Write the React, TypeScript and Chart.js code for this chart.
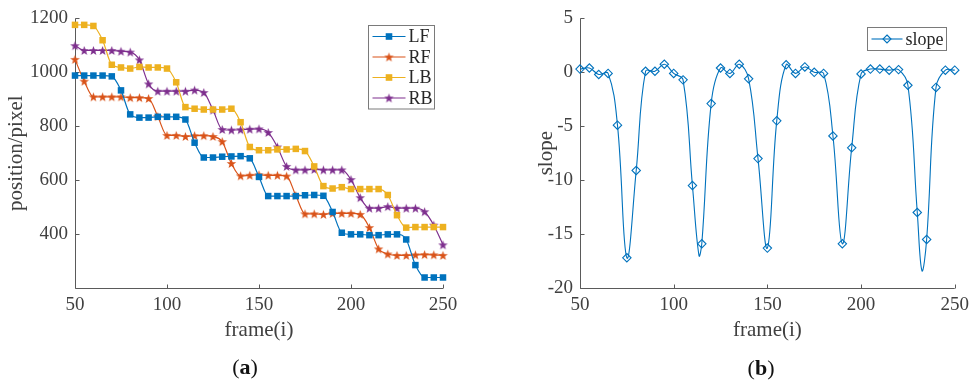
import React, { useEffect, useRef } from 'react';
import { Chart, registerables } from 'chart.js';
Chart.register(...registerables);

// ---------- data ----------
const frames = [50, 55, 60, 65, 70, 75, 80, 85, 90, 95, 100, 105, 110, 115, 120, 125, 130, 135, 140, 145, 150, 155, 160, 165, 170, 175, 180, 185, 190, 195, 200, 205, 210, 215, 220, 225, 230, 235, 240, 245, 250];
const lfPositions = [988, 988, 988, 988, 985, 933, 844, 832, 832, 835, 835, 835, 825, 739, 684, 684, 687, 688, 689, 681, 612, 541, 541, 541, 541, 544, 545, 542, 482, 405, 399, 399, 396, 396, 399, 399, 380, 285, 239, 239, 239];
const rfPositions = [1048, 967, 909, 909, 909, 909, 906, 906, 903, 836, 766, 766, 762, 765, 765, 762, 743, 662, 616, 618, 620, 618, 618, 615, 543, 475, 475, 473, 477, 477, 477, 473, 424, 345, 326, 321, 321, 323, 324, 323, 321];
const lbPositions = [1176, 1176, 1172, 1119, 1028, 1018, 1014, 1020, 1018, 1018, 1014, 963, 871, 865, 862, 862, 862, 865, 815, 723, 711, 711, 714, 714, 716, 708, 651, 578, 569, 574, 567, 567, 567, 567, 545, 470, 424, 426, 426, 426, 426];
const rbPositions = [1099, 1081, 1081, 1081, 1081, 1078, 1075, 1046, 957, 930, 930, 930, 930, 934, 925, 860, 788, 786, 787, 789, 790, 777, 723, 651, 638, 638, 640, 638, 638, 638, 602, 535, 496, 496, 502, 496, 496, 496, 483, 433, 360];
const slopeValues = [0.3, 0.4, -0.2, -0.1, -4.9, -17.2, -9.1, 0.1, 0.1, 0.75, -0.1, -0.7, -10.5, -15.9, -2.9, 0.4, -0.1, 0.75, -0.6, -8.0, -16.3, -4.5, 0.7, -0.1, 0.5, 0, -0.1, -5.9, -15.9, -7.0, -0.15, 0.3, 0.3, 0.2, 0.25, -1.2, -13.0, -15.5, -1.4, 0.2, 0.2];
// curve minima (no marker drawn there)
const slopeDipFrames = [113.5, 232.5];
const slopeDipValues = [-17.0, -18.4];

const frameTicks = [50, 100, 150, 200, 250];
const positionTicks = [400, 600, 800, 1000, 1200];
const slopeTicks = [-20, -15, -10, -5, 0, 5];

// ---------- styles ----------
const SERIF = "'Liberation Serif', 'Times New Roman', serif";
const TEXT = '#404040';
const AXIS = '#5a5a5a';
const BLUE = '#0072BD';
const RED = '#D95319';
const YELLOW = '#EDB120';
const PURPLE = '#7E2F8E';

function makeStar(color: string): HTMLCanvasElement {
  const c = document.createElement('canvas');
  c.width = 11;
  c.height = 11;
  const g = c.getContext('2d')!;
  g.beginPath();
  for (let i = 0; i < 10; i++) {
    const r = i % 2 === 0 ? 5 : 2.0;
    const a = -Math.PI / 2 + (i * Math.PI) / 5;
    const px = 5.5 + r * Math.cos(a);
    const py = 5.9 + r * Math.sin(a);
    if (i === 0) g.moveTo(px, py);
    else g.lineTo(px, py);
  }
  g.closePath();
  g.fillStyle = color;
  g.fill();
  return c;
}

function drawMarker(ctx: CanvasRenderingContext2D, d: any, x: number, y: number) {
  const st = d.pointStyle;
  if (st && typeof st === 'object') {
    ctx.drawImage(st, x - st.width / 2, y - st.height / 2);
    return;
  }
  if (st === 'rect') {
    ctx.fillStyle = d.pointBackgroundColor;
    ctx.fillRect(x - 3.3, y - 3.3, 6.6, 6.6);
    return;
  }
  if (st === 'rectRot') {
    ctx.strokeStyle = d.pointBorderColor;
    ctx.lineWidth = d.pointBorderWidth || 1;
    ctx.beginPath();
    ctx.moveTo(x, y - 4);
    ctx.lineTo(x + 4, y);
    ctx.lineTo(x, y + 4);
    ctx.lineTo(x - 4, y);
    ctx.closePath();
    ctx.stroke();
  }
}

const axesPlugin = {
  id: 'matlabAxes',
  beforeDatasetsDraw(chart: any) {
    const { ctx, chartArea: a, scales } = chart;
    ctx.save();
    ctx.strokeStyle = AXIS;
    ctx.lineWidth = 1;
    const L = Math.round(a.left) + 0.5;
    const B = Math.round(a.bottom) + 0.5;
    ctx.beginPath();
    ctx.moveTo(L, a.top);
    ctx.lineTo(L, B);
    ctx.lineTo(a.right, B);
    scales.x.ticks.forEach((t: any) => {
      const p = Math.round(scales.x.getPixelForValue(t.value)) + 0.5;
      ctx.moveTo(p, B);
      ctx.lineTo(p, B - 4);
    });
    scales.y.ticks.forEach((t: any) => {
      const p = Math.round(scales.y.getPixelForValue(t.value)) + 0.5;
      ctx.moveTo(L, p);
      ctx.lineTo(L + 4, p);
    });
    ctx.stroke();
    ctx.restore();
  },
};

const boxLegend = {
  id: 'boxLegend',
  afterDatasetsDraw(chart: any, _args: any, opts: any) {
    const { ctx, chartArea: a } = chart;
    const ds = chart.data.datasets;
    const x0 = Math.round(a.right - opts.offsetRight - opts.width) + 0.5;
    const y0 = Math.round(a.top + opts.offsetTop) + 0.5;
    const h = opts.padY * 2 + ds.length * opts.rowHeight;
    ctx.save();
    ctx.fillStyle = '#ffffff';
    ctx.fillRect(x0, y0, opts.width, h);
    ctx.strokeStyle = '#7a7a7a';
    ctx.lineWidth = 1;
    ctx.strokeRect(x0, y0, opts.width, h);
    ds.forEach((d: any, k: number) => {
      const cy = y0 + opts.padY + opts.rowHeight * (k + 0.5);
      ctx.strokeStyle = d.borderColor;
      ctx.lineWidth = d.borderWidth;
      ctx.beginPath();
      ctx.moveTo(x0 + 4, cy);
      ctx.lineTo(x0 + 4 + opts.lineLen, cy);
      ctx.stroke();
      drawMarker(ctx, d, x0 + 4 + opts.lineLen / 2, cy);
      ctx.fillStyle = '#262626';
      ctx.font = `${opts.fontSize}px ${SERIF}`;
      ctx.textBaseline = 'middle';
      ctx.textAlign = 'left';
      ctx.fillText(d.label, x0 + 4 + opts.lineLen + 3, cy + 1);
    });
    ctx.restore();
  },
};

function fixedTicks(values: number[]) {
  return (s: any) => {
    s.ticks = values.map((v) => ({ value: v }));
  };
}

function axisCommon(tickValues: number[], title: string, titlePadding: any, isX: boolean, size: number) {
  return {
    type: 'linear',
    afterBuildTicks: fixedTicks(tickValues),
    afterFit: (s: any) => {
      if (isX) s.height = size;
      else s.width = size;
    },
    grid: { display: false, drawTicks: false },
    border: { display: false },
    ticks: {
      color: TEXT,
      font: { family: SERIF, size: 19 },
      padding: isX ? 6 : 7,
      maxRotation: 0,
      autoSkip: false,
      callback: (v: any) => String(v),
    },
    title: { display: true, text: title, color: TEXT, font: { family: SERIF, size: 21 }, padding: titlePadding },
  };
}

function posDataset(label: string, values: number[], color: string, style: any) {
  return {
    label,
    data: frames.map((f, i) => ({ x: f, y: values[i] })),
    borderColor: color,
    backgroundColor: color,
    borderWidth: 1.2,
    pointStyle: style,
    pointRadius: 4.6,
    pointBorderWidth: 0,
    pointBackgroundColor: color,
    pointBorderColor: color,
    cubicInterpolationMode: 'monotone',
    clip: false,
  };
}

export default function App() {
  const leftRef = useRef<HTMLCanvasElement>(null);
  const rightRef = useRef<HTMLCanvasElement>(null);

  useEffect(() => {
    const redStar = makeStar(RED);
    const purpleStar = makeStar(PURPLE);

    const left = new Chart(leftRef.current!, {
      type: 'line',
      data: {
        datasets: [
          posDataset('LF', lfPositions, BLUE, 'rect'),
          posDataset('RF', rfPositions, RED, redStar),
          posDataset('LB', lbPositions, YELLOW, 'rect'),
          posDataset('RB', rbPositions, PURPLE, purpleStar),
        ] as any,
      },
      options: {
        animation: false,
        responsive: false,
        devicePixelRatio: 1,
        layout: { padding: { left: 0, top: 15, right: 44, bottom: 0 } },
        plugins: {
          legend: { display: false },
          tooltip: { enabled: false },
          boxLegend: { offsetRight: 9, offsetTop: 7, width: 66, rowHeight: 20.5, padY: 0.75, lineLen: 33, fontSize: 18 },
        } as any,
        scales: {
          x: { ...axisCommon(frameTicks, 'frame(i)', { top: 0, bottom: 40 }, true, 95), min: 50, max: 250 },
          y: { ...axisCommon(positionTicks, 'position/pixel', { top: 4, bottom: 0 }, false, 75), min: 200, max: 1200 },
        } as any,
      },
      plugins: [axesPlugin, boxLegend],
    });

    const slopePoints = frames
      .map((f, i) => ({ x: f, y: slopeValues[i] }))
      .concat(slopeDipFrames.map((f, i) => ({ x: f, y: slopeDipValues[i] })))
      .sort((p, q) => p.x - q.x);

    const right = new Chart(rightRef.current!, {
      type: 'line',
      data: {
        datasets: [
          {
            label: 'slope',
            data: slopePoints,
            borderColor: BLUE,
            backgroundColor: BLUE,
            borderWidth: 1.1,
            pointStyle: 'rectRot',
            pointRadius: (c: any) => (c.raw && c.raw.x % 5 === 0 ? 4.2 : 0),
            pointBorderWidth: 1.1,
            pointBackgroundColor: 'rgba(255,255,255,0)',
            pointBorderColor: BLUE,
            tension: 0.4,
            clip: false,
          },
        ] as any,
      },
      options: {
        animation: false,
        responsive: false,
        devicePixelRatio: 1,
        layout: { padding: { left: 0, top: 13, right: 20, bottom: 0 } },
        plugins: {
          legend: { display: false },
          tooltip: { enabled: false },
          boxLegend: { offsetRight: 9, offsetTop: 9, width: 79, rowHeight: 21, padY: 1, lineLen: 31, fontSize: 18 },
        } as any,
        scales: {
          x: { ...axisCommon(frameTicks, 'frame(i)', { top: 0, bottom: 40 }, true, 95), min: 50, max: 250 },
          y: { ...axisCommon(slopeTicks, 'slope', { top: 47, bottom: 0 }, false, 93), min: -20, max: 5 },
        } as any,
      },
      plugins: [axesPlugin, boxLegend],
    });

    return () => {
      left.destroy();
      right.destroy();
    };
  }, []);

  const capStyle: React.CSSProperties = {
    position: 'absolute',
    transform: 'translate(-50%, -50%)',
    fontFamily: SERIF,
    fontSize: 22,
    color: '#111',
    whiteSpace: 'nowrap',
    lineHeight: 1,
  };

  return (
    <div style={{ position: 'fixed', left: 0, top: 0, width: 975, height: 383, background: '#fff' }}>
      <canvas ref={leftRef} width={487} height={383} style={{ position: 'absolute', left: 0, top: 0 }} />
      <canvas ref={rightRef} width={488} height={383} style={{ position: 'absolute', left: 487, top: 0 }} />
      <div style={{ ...capStyle, left: 245, top: 367 }}>
        (<b>a</b>)
      </div>
      <div style={{ ...capStyle, left: 761, top: 368 }}>
        (<b>b</b>)
      </div>
    </div>
  );
}
